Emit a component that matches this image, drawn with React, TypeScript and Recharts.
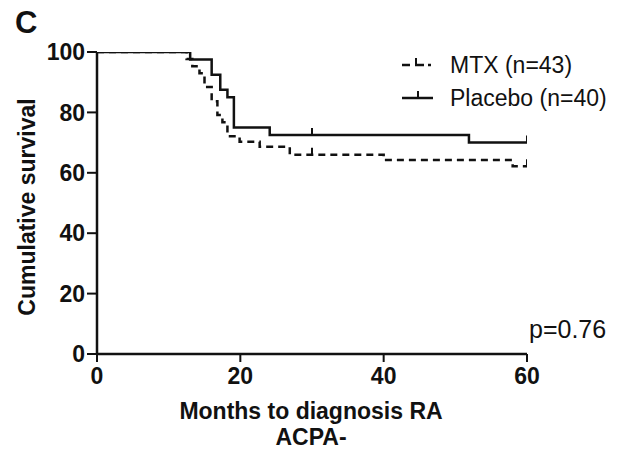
import React from "react";
import { ComposedChart, Line, Scatter, XAxis, YAxis } from "recharts";

// Kaplan-Meier steps (months, % survival)
const mtxMonths = [0, 12.5, 13.3, 14.3, 15.0, 16.0, 16.8, 17.5, 18.2, 19.9, 22.7, 26.9, 40, 58, 60];
const mtxSurvival = [100, 97.7, 95.3, 93.0, 88.4, 83.7, 79.1, 76.7, 72.1, 70.3, 68.6, 66.0, 64.2, 62.2, 62.2];

const placeboMonths = [0, 13, 16, 17.2, 18.2, 19.1, 24.1, 51.9, 60];
const placeboSurvival = [100, 97.5, 92.5, 87.5, 85, 75, 72.5, 70, 70];

// censored observations
const censorMonths = [3.2, 6.2, 12, 30, 60, 30, 60];
const censorSurvival = [100, 100, 100, 66.0, 62.2, 72.5, 70];

const xTicks = [0, 20, 40, 60];
const yTicks = [0, 20, 40, 60, 80, 100];

const mtxData = mtxMonths.map((x, i) => ({ x, y: mtxSurvival[i] }));
const placeboData = placeboMonths.map((x, i) => ({ x, y: placeboSurvival[i] }));
const censorData = censorMonths.map((x, i) => ({ x, y: censorSurvival[i] }));

const FONT = '"Liberation Sans", Arial, sans-serif';
const INK = "#111";

const CensorTick = (props: any) => {
  const { cx, cy } = props;
  return <line x1={cx} y1={cy} x2={cx} y2={cy - 7} stroke={INK} strokeWidth={2} />;
};

const txt = (extra: React.CSSProperties): React.CSSProperties => ({
  position: "absolute",
  fontFamily: FONT,
  color: INK,
  whiteSpace: "nowrap",
  lineHeight: 1,
  ...extra,
});

export default function App() {
  return (
    <div style={{ position: "absolute", left: 0, top: 0, width: 618, height: 450, background: "#fff" }}>
      <ComposedChart
        width={618}
        height={450}
        margin={{ top: 52, right: 91, bottom: 66, left: 37 }}
      >
        <XAxis
          type="number"
          dataKey="x"
          domain={[0, 60]}
          ticks={xTicks}
          allowDataOverflow
          height={30}
          axisLine={{ stroke: INK, strokeWidth: 2.5 }}
          tickLine={{ stroke: INK, strokeWidth: 2 }}
          tickSize={8}
          tick={{ fill: INK, fontSize: 23, fontWeight: 700, fontFamily: FONT, dy: 4 }}
        />
        <YAxis
          type="number"
          dataKey="y"
          domain={[0, 100]}
          ticks={yTicks}
          allowDataOverflow
          width={60}
          axisLine={{ stroke: INK, strokeWidth: 2.5 }}
          tickLine={{ stroke: INK, strokeWidth: 2 }}
          tickSize={10}
          tick={{ fill: INK, fontSize: 23, fontWeight: 700, fontFamily: FONT }}
        />
        <Line
          data={mtxData}
          dataKey="y"
          type="stepAfter"
          stroke={INK}
          strokeWidth={2.5}
          strokeDasharray="7 5"
          dot={false}
          isAnimationActive={false}
        />
        <Line
          data={placeboData}
          dataKey="y"
          type="stepAfter"
          stroke={INK}
          strokeWidth={2.5}
          dot={false}
          isAnimationActive={false}
        />
        <Scatter data={censorData} dataKey="y" shape={CensorTick} isAnimationActive={false} />
      </ComposedChart>

      <div style={txt({ left: 15, top: 7, fontSize: 31, fontWeight: 700 })}>C</div>

      <div
        style={txt({
          left: 27,
          top: 207,
          fontSize: 23,
          fontWeight: 700,
          transform: "translate(-50%, -50%) rotate(-90deg)",
        })}
      >
        Cumulative survival
      </div>

      <div style={txt({ left: 311, top: 411, fontSize: 23, fontWeight: 700, transform: "translate(-50%, -50%)" })}>
        Months to diagnosis RA
      </div>
      <div style={txt({ left: 311, top: 437, fontSize: 23, fontWeight: 700, transform: "translate(-50%, -50%)" })}>
        ACPA-
      </div>

      <div style={txt({ left: 529, top: 317, fontSize: 25 })}>p=0.76</div>

      {/* legend */}
      <svg style={{ position: "absolute", left: 398, top: 52 }} width={40} height={56}>
        <line x1={4} y1={13} x2={12} y2={13} stroke={INK} strokeWidth={2.5} />
        <line x1={17} y1={13} x2={26} y2={13} stroke={INK} strokeWidth={2.5} />
        <line x1={18} y1={13} x2={18} y2={6} stroke={INK} strokeWidth={2} />
        <line x1={30} y1={13} x2={33} y2={13} stroke={INK} strokeWidth={2.5} />
        <line x1={4} y1={46} x2={35} y2={46} stroke={INK} strokeWidth={2.5} />
        <line x1={20} y1={46} x2={20} y2={39} stroke={INK} strokeWidth={2} />
      </svg>
      <div style={txt({ left: 450, top: 54, fontSize: 23 })}>MTX (n=43)</div>
      <div style={txt({ left: 450, top: 87, fontSize: 23 })}>Placebo (n=40)</div>
    </div>
  );
}
